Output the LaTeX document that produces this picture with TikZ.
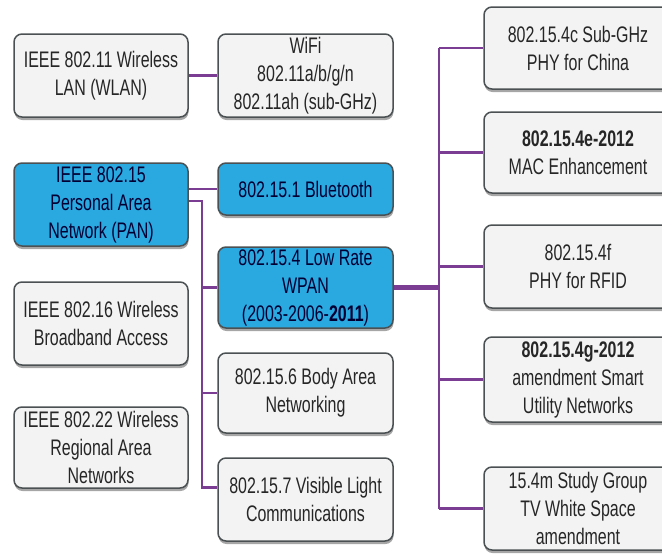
\documentclass[tikz,border=0pt]{standalone}
\usepackage{fontspec}
\setmainfont{Liberation Sans}[FakeStretch=0.71]
\usepackage{tikz}
\usetikzlibrary{shadows,calc}

\definecolor{boxline}{HTML}{4B5152}
\definecolor{boxfill}{HTML}{F3F3F3}
\definecolor{panblue}{HTML}{2AA8E0}
\definecolor{linkpurple}{HTML}{7B3C93}

\begin{document}
\begin{tikzpicture}[x=1pt,y=-1pt,font=\fontsize{22.5}{28}\selectfont]
\tikzstyle{std box}=[rectangle,rounded corners=8pt,draw=boxline,line width=1.5pt,fill=boxfill,
    text=black!85,align=center,inner sep=0pt,minimum width=175pt,minimum height=83pt,
    drop shadow={shadow xshift=0.5pt,shadow yshift=-3pt,fill=black,opacity=0.35}]
\tikzstyle{pan box}=[std box,fill=panblue,text=black!80!blue]

\tikzset{
	wide box/.style={std box,minimum width=188pt},
	link/.style={draw=linkpurple,line width=2.6pt},
	bus link/.style={draw=linkpurple,line width=2pt},
	main link/.style={draw=linkpurple,line width=5pt}
}

      \useasboundingbox (0,0) rectangle (662,555);
      \clip (0,0) rectangle (662,555);

      % left column
      \node[std box,minimum width=174pt] (wlan) at (101,75.5) {IEEE 802.11 Wireless\\LAN (WLAN)};
      \node[pan box,minimum width=174pt] (pan) at (101,204.5) {IEEE 802.15\\Personal Area\\Network (PAN)};
      \node[std box,minimum width=174pt] (wba) at (101,323.5) {IEEE 802.16 Wireless\\Broadband Access};
      \node[std box,minimum width=174pt,minimum height=81pt] (wran) at (101,447.5) {IEEE 802.22 Wireless\\Regional Area\\Networks};

      % middle column
      \node[std box] (wifi) at (305.5,75.5) {WiFi\\802.11a/b/g/n\\802.11ah (sub-GHz)};
      \node[pan box,minimum height=52pt] (bt) at (305.5,189) {802.15.1 Bluetooth};
      \node[pan box,minimum height=81pt] (lr) at (305.5,287.5) {802.15.4 Low Rate\\WPAN\\(2003-2006-\textbf{2011})};
      \node[std box,minimum height=80pt] (ban) at (305.5,393) {802.15.6 Body Area\\Networking};
      \node[std box] (vlc) at (305.5,499.5) {802.15.7 Visible Light\\Communications};

      % right column
      \node[wide box,minimum height=82pt] (c) at (578,48) {802.15.4c Sub-GHz\\PHY for China};
      \node[wide box,minimum height=81pt] (e) at (578,152.5) {\textbf{802.15.4e-2012}\\MAC Enhancement};
      \node[wide box] (f) at (578,266.5) {802.15.4f\\PHY for RFID};
      \node[wide box,minimum height=85pt] (g) at (578,379.5) {\textbf{802.15.4g-2012}\\amendment Smart\\Utility Networks};
      \node[wide box] (m) at (578,508.5) {15.4m Study Group\hspace{14pt}\\TV White Space\\amendment};

      \coordinate (pb) at (202,201);
      \coordinate (vw) at ([yshift=12pt]vlc.west);
      \coordinate (rb) at (439,0);

    \path[link] (wlan) -- (wifi)
                (pan.east |- bt) -- (bt.west);
    \path[link] (pan.east |- pb) -- (pb) -- (pb |- vw) -- (vw)
                (pb |- lr.west) -- (lr.west)
                (pb |- ban.west) -- (ban.west);
    \path[main link] (lr.east) -- (lr.east -| rb);
    \path[bus link] (rb |- c.west) -- (rb |- m.west);
    \path[link] (rb |- c.west) -- (c.west)
                (rb |- e.west) -- (e.west)
                (rb |- f.west) -- (f.west)
                (rb |- g.west) -- (g.west)
                (rb |- m.west) -- (m.west);
\end{tikzpicture}
\end{document}
